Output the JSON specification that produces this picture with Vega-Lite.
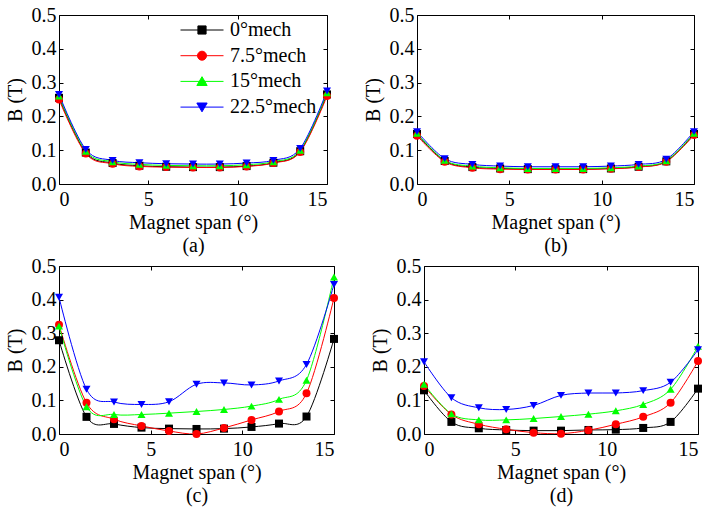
{
  "$schema": "https://vega.github.io/schema/vega-lite/v6.json",
  "padding": {"left": 5, "top": 5, "right": 5, "bottom": 5},
  "background": "white",
  "config": {
    "font": "Liberation Serif",
    "view": {"stroke": null},
    "axis": {
      "grid": false, "domainColor": "black", "domainWidth": 1, "tickColor": "black", "tickWidth": 1, "tickSize": -4,
      "labelColor": "black", "titleColor": "black", "labelFont": "Liberation Serif", "titleFont": "Liberation Serif",
      "labelFontSize": 20, "titleFontSize": 20, "titleFontWeight": "normal"
    },
    "axisX": {"labelPadding": 9, "titlePadding": 3, "titleLineHeight": 23},
    "axisY": {"labelPadding": 7, "titlePadding": 6},
    "legend": {"labelFont": "Liberation Serif", "labelFontSize": 20, "labelColor": "black"}
  },
  "datasets": {
    "a": [
      {"x":0,"B":0.255,"s":"0°mech"},{"x":1.5,"B":0.093,"s":"0°mech"},{"x":3,"B":0.062,"s":"0°mech"},{"x":4.5,"B":0.054,"s":"0°mech"},{"x":6,"B":0.051,"s":"0°mech"},{"x":7.5,"B":0.050,"s":"0°mech"},{"x":9,"B":0.050,"s":"0°mech"},{"x":10.5,"B":0.053,"s":"0°mech"},{"x":12,"B":0.063,"s":"0°mech"},{"x":13.5,"B":0.097,"s":"0°mech"},{"x":15,"B":0.265,"s":"0°mech"},
      {"x":0,"B":0.250,"s":"7.5°mech"},{"x":1.5,"B":0.090,"s":"7.5°mech"},{"x":3,"B":0.060,"s":"7.5°mech"},{"x":4.5,"B":0.052,"s":"7.5°mech"},{"x":6,"B":0.050,"s":"7.5°mech"},{"x":7.5,"B":0.049,"s":"7.5°mech"},{"x":9,"B":0.049,"s":"7.5°mech"},{"x":10.5,"B":0.052,"s":"7.5°mech"},{"x":12,"B":0.062,"s":"7.5°mech"},{"x":13.5,"B":0.095,"s":"7.5°mech"},{"x":15,"B":0.260,"s":"7.5°mech"},
      {"x":0,"B":0.260,"s":"15°mech"},{"x":1.5,"B":0.097,"s":"15°mech"},{"x":3,"B":0.066,"s":"15°mech"},{"x":4.5,"B":0.058,"s":"15°mech"},{"x":6,"B":0.055,"s":"15°mech"},{"x":7.5,"B":0.054,"s":"15°mech"},{"x":9,"B":0.054,"s":"15°mech"},{"x":10.5,"B":0.057,"s":"15°mech"},{"x":12,"B":0.066,"s":"15°mech"},{"x":13.5,"B":0.100,"s":"15°mech"},{"x":15,"B":0.270,"s":"15°mech"},
      {"x":0,"B":0.265,"s":"22.5°mech"},{"x":1.5,"B":0.102,"s":"22.5°mech"},{"x":3,"B":0.070,"s":"22.5°mech"},{"x":4.5,"B":0.063,"s":"22.5°mech"},{"x":6,"B":0.060,"s":"22.5°mech"},{"x":7.5,"B":0.059,"s":"22.5°mech"},{"x":9,"B":0.059,"s":"22.5°mech"},{"x":10.5,"B":0.062,"s":"22.5°mech"},{"x":12,"B":0.070,"s":"22.5°mech"},{"x":13.5,"B":0.105,"s":"22.5°mech"},{"x":15,"B":0.275,"s":"22.5°mech"}
    ],
    "b": [
      {"x":0,"B":0.148,"s":"0°mech"},{"x":1.5,"B":0.068,"s":"0°mech"},{"x":3,"B":0.050,"s":"0°mech"},{"x":4.5,"B":0.046,"s":"0°mech"},{"x":6,"B":0.044,"s":"0°mech"},{"x":7.5,"B":0.044,"s":"0°mech"},{"x":9,"B":0.044,"s":"0°mech"},{"x":10.5,"B":0.046,"s":"0°mech"},{"x":12,"B":0.051,"s":"0°mech"},{"x":13.5,"B":0.067,"s":"0°mech"},{"x":15,"B":0.148,"s":"0°mech"},
      {"x":0,"B":0.143,"s":"7.5°mech"},{"x":1.5,"B":0.066,"s":"7.5°mech"},{"x":3,"B":0.048,"s":"7.5°mech"},{"x":4.5,"B":0.044,"s":"7.5°mech"},{"x":6,"B":0.043,"s":"7.5°mech"},{"x":7.5,"B":0.043,"s":"7.5°mech"},{"x":9,"B":0.043,"s":"7.5°mech"},{"x":10.5,"B":0.045,"s":"7.5°mech"},{"x":12,"B":0.050,"s":"7.5°mech"},{"x":13.5,"B":0.066,"s":"7.5°mech"},{"x":15,"B":0.145,"s":"7.5°mech"},
      {"x":0,"B":0.150,"s":"15°mech"},{"x":1.5,"B":0.070,"s":"15°mech"},{"x":3,"B":0.053,"s":"15°mech"},{"x":4.5,"B":0.048,"s":"15°mech"},{"x":6,"B":0.046,"s":"15°mech"},{"x":7.5,"B":0.046,"s":"15°mech"},{"x":9,"B":0.046,"s":"15°mech"},{"x":10.5,"B":0.048,"s":"15°mech"},{"x":12,"B":0.053,"s":"15°mech"},{"x":13.5,"B":0.069,"s":"15°mech"},{"x":15,"B":0.150,"s":"15°mech"},
      {"x":0,"B":0.155,"s":"22.5°mech"},{"x":1.5,"B":0.075,"s":"22.5°mech"},{"x":3,"B":0.058,"s":"22.5°mech"},{"x":4.5,"B":0.053,"s":"22.5°mech"},{"x":6,"B":0.051,"s":"22.5°mech"},{"x":7.5,"B":0.051,"s":"22.5°mech"},{"x":9,"B":0.051,"s":"22.5°mech"},{"x":10.5,"B":0.053,"s":"22.5°mech"},{"x":12,"B":0.058,"s":"22.5°mech"},{"x":13.5,"B":0.073,"s":"22.5°mech"},{"x":15,"B":0.155,"s":"22.5°mech"}
    ],
    "c": [
      {"x":0,"B":0.279,"s":"0°mech"},{"x":1.5,"B":0.051,"s":"0°mech"},{"x":3,"B":0.030,"s":"0°mech"},{"x":4.5,"B":0.019,"s":"0°mech"},{"x":6,"B":0.016,"s":"0°mech"},{"x":7.5,"B":0.015,"s":"0°mech"},{"x":9,"B":0.016,"s":"0°mech"},{"x":10.5,"B":0.021,"s":"0°mech"},{"x":12,"B":0.031,"s":"0°mech"},{"x":13.5,"B":0.052,"s":"0°mech"},{"x":15,"B":0.283,"s":"0°mech"},
      {"x":0,"B":0.325,"s":"7.5°mech"},{"x":1.5,"B":0.093,"s":"7.5°mech"},{"x":3,"B":0.044,"s":"7.5°mech"},{"x":4.5,"B":0.024,"s":"7.5°mech"},{"x":6,"B":0.009,"s":"7.5°mech"},{"x":7.5,"B":0.000,"s":"7.5°mech"},{"x":9,"B":0.018,"s":"7.5°mech"},{"x":10.5,"B":0.042,"s":"7.5°mech"},{"x":12,"B":0.067,"s":"7.5°mech"},{"x":13.5,"B":0.121,"s":"7.5°mech"},{"x":15,"B":0.405,"s":"7.5°mech"},
      {"x":0,"B":0.321,"s":"15°mech"},{"x":1.5,"B":0.081,"s":"15°mech"},{"x":3,"B":0.058,"s":"15°mech"},{"x":4.5,"B":0.058,"s":"15°mech"},{"x":6,"B":0.062,"s":"15°mech"},{"x":7.5,"B":0.067,"s":"15°mech"},{"x":9,"B":0.073,"s":"15°mech"},{"x":10.5,"B":0.083,"s":"15°mech"},{"x":12,"B":0.103,"s":"15°mech"},{"x":13.5,"B":0.160,"s":"15°mech"},{"x":15,"B":0.467,"s":"15°mech"},
      {"x":0,"B":0.407,"s":"22.5°mech"},{"x":1.5,"B":0.133,"s":"22.5°mech"},{"x":3,"B":0.095,"s":"22.5°mech"},{"x":4.5,"B":0.088,"s":"22.5°mech"},{"x":6,"B":0.096,"s":"22.5°mech"},{"x":7.5,"B":0.148,"s":"22.5°mech"},{"x":9,"B":0.152,"s":"22.5°mech"},{"x":10.5,"B":0.146,"s":"22.5°mech"},{"x":12,"B":0.158,"s":"22.5°mech"},{"x":13.5,"B":0.207,"s":"22.5°mech"},{"x":15,"B":0.445,"s":"22.5°mech"}
    ],
    "d": [
      {"x":0,"B":0.130,"s":"0°mech"},{"x":1.5,"B":0.036,"s":"0°mech"},{"x":3,"B":0.017,"s":"0°mech"},{"x":4.5,"B":0.012,"s":"0°mech"},{"x":6,"B":0.010,"s":"0°mech"},{"x":7.5,"B":0.010,"s":"0°mech"},{"x":9,"B":0.012,"s":"0°mech"},{"x":10.5,"B":0.013,"s":"0°mech"},{"x":12,"B":0.018,"s":"0°mech"},{"x":13.5,"B":0.036,"s":"0°mech"},{"x":15,"B":0.135,"s":"0°mech"},
      {"x":0,"B":0.143,"s":"7.5°mech"},{"x":1.5,"B":0.058,"s":"7.5°mech"},{"x":3,"B":0.029,"s":"7.5°mech"},{"x":4.5,"B":0.014,"s":"7.5°mech"},{"x":6,"B":0.004,"s":"7.5°mech"},{"x":7.5,"B":0.001,"s":"7.5°mech"},{"x":9,"B":0.011,"s":"7.5°mech"},{"x":10.5,"B":0.029,"s":"7.5°mech"},{"x":12,"B":0.051,"s":"7.5°mech"},{"x":13.5,"B":0.093,"s":"7.5°mech"},{"x":15,"B":0.217,"s":"7.5°mech"},
      {"x":0,"B":0.148,"s":"15°mech"},{"x":1.5,"B":0.060,"s":"15°mech"},{"x":3,"B":0.042,"s":"15°mech"},{"x":4.5,"B":0.042,"s":"15°mech"},{"x":6,"B":0.046,"s":"15°mech"},{"x":7.5,"B":0.052,"s":"15°mech"},{"x":9,"B":0.059,"s":"15°mech"},{"x":10.5,"B":0.069,"s":"15°mech"},{"x":12,"B":0.088,"s":"15°mech"},{"x":13.5,"B":0.133,"s":"15°mech"},{"x":15,"B":0.261,"s":"15°mech"},
      {"x":0,"B":0.215,"s":"22.5°mech"},{"x":1.5,"B":0.108,"s":"22.5°mech"},{"x":3,"B":0.078,"s":"22.5°mech"},{"x":4.5,"B":0.073,"s":"22.5°mech"},{"x":6,"B":0.085,"s":"22.5°mech"},{"x":7.5,"B":0.115,"s":"22.5°mech"},{"x":9,"B":0.122,"s":"22.5°mech"},{"x":10.5,"B":0.122,"s":"22.5°mech"},{"x":12,"B":0.129,"s":"22.5°mech"},{"x":13.5,"B":0.154,"s":"22.5°mech"},{"x":15,"B":0.251,"s":"22.5°mech"}
    ]
  },
  "spacing": 1,
  "vconcat": [
    {
      "spacing": 32,
      "hconcat": [
        {
          "width": 268, "height": 169,
          "data": {"name": "a"},
          "layer": [
            {"mark": {"type": "line", "interpolate": "cardinal", "strokeWidth": 1, "clip": true},
             "encoding": {
               "x": {"field": "x", "type": "quantitative", "scale": {"domain": [0, 15], "nice": false}, "axis": {"values": [0, 5, 10, 15], "title": ["Magnet span (°)", "(a)"]}},
               "y": {"field": "B", "type": "quantitative", "scale": {"domain": [0, 0.5], "nice": false}, "axis": {"values": [0, 0.1, 0.2, 0.3, 0.4, 0.5], "format": ".1f", "title": "B (T)"}},
               "color": {"field": "s", "type": "nominal", "scale": {"domain": ["0°mech", "7.5°mech", "15°mech", "22.5°mech"], "range": ["#000000", "#ff0000", "#00ff00", "#0000ff"]}, "legend": {"orient": "none", "legendX": 121, "legendY": 5, "title": null, "clipHeight": 20, "rowPadding": 5.7, "symbolSize": 1849, "labelOffset": 6, "padding": 0,
                 "encode": {"symbols": {"update": {"shape": {"signal": "datum.value === '0°mech' ? 'M-1,0H1M-0.19,-0.19H0.19V0.19H-0.19Z' : datum.value === '7.5°mech' ? 'M-1,0H1M0.21,0A0.21,0.21,0,1,1,-0.21,0A0.21,0.21,0,1,1,0.21,0Z' : datum.value === '15°mech' ? 'M-1,0H1M0,-0.22L0.24,0.19L-0.24,0.19Z' : 'M-1,0H1M0,0.22L0.24,-0.19L-0.24,-0.19Z'"}, "stroke": {"signal": "scale('color', datum.value)"}, "fill": {"signal": "scale('color', datum.value)"}, "strokeWidth": {"value": 1}, "opacity": {"value": 1}}}}}}
             }},
            {"mark": {"type": "point", "filled": true, "size": 64, "opacity": 1},
             "encoding": {
               "x": {"field": "x", "type": "quantitative", "axis": null},
               "y": {"field": "B", "type": "quantitative", "axis": null},
               "color": {"field": "s", "type": "nominal"},
               "shape": {"condition": [{"test": "datum.s === '0°mech'", "value": "square"}, {"test": "datum.s === '7.5°mech'", "value": "circle"}, {"test": "datum.s === '15°mech'", "value": "triangle-up"}], "value": "triangle-down"}
             }},
            {"mark": {"type": "point", "opacity": 0},
             "encoding": {
               "x": {"field": "x", "type": "quantitative", "axis": {"orient": "top", "values": [0, 5, 10, 15], "labels": false, "title": null}},
               "y": {"field": "B", "type": "quantitative", "axis": {"orient": "right", "values": [0, 0.1, 0.2, 0.3, 0.4, 0.5], "labels": false, "title": null}}
             }}
          ],
          "resolve": {"axis": {"x": "independent", "y": "independent"}}
        },
        {
          "width": 277, "height": 169,
          "data": {"name": "b"},
          "layer": [
            {"mark": {"type": "line", "interpolate": "cardinal", "strokeWidth": 1, "clip": true},
             "encoding": {
               "x": {"field": "x", "type": "quantitative", "scale": {"domain": [0, 15], "nice": false}, "axis": {"values": [0, 5, 10, 15], "title": ["Magnet span (°)", "(b)"]}},
               "y": {"field": "B", "type": "quantitative", "scale": {"domain": [0, 0.5], "nice": false}, "axis": {"values": [0, 0.1, 0.2, 0.3, 0.4, 0.5], "format": ".1f", "title": "B (T)"}},
               "color": {"field": "s", "type": "nominal"}
             }},
            {"mark": {"type": "point", "filled": true, "size": 64, "opacity": 1},
             "encoding": {
               "x": {"field": "x", "type": "quantitative", "axis": null},
               "y": {"field": "B", "type": "quantitative", "axis": null},
               "color": {"field": "s", "type": "nominal"},
               "shape": {"condition": [{"test": "datum.s === '0°mech'", "value": "square"}, {"test": "datum.s === '7.5°mech'", "value": "circle"}, {"test": "datum.s === '15°mech'", "value": "triangle-up"}], "value": "triangle-down"}
             }},
            {"mark": {"type": "point", "opacity": 0},
             "encoding": {
               "x": {"field": "x", "type": "quantitative", "axis": {"orient": "top", "values": [0, 5, 10, 15], "labels": false, "title": null}},
               "y": {"field": "B", "type": "quantitative", "axis": {"orient": "right", "values": [0, 0.1, 0.2, 0.3, 0.4, 0.5], "labels": false, "title": null}}
             }}
          ],
          "resolve": {"axis": {"x": "independent", "y": "independent"}}
        }
      ]
    },
    {
      "spacing": 32,
      "hconcat": [
        {
          "width": 275, "height": 168,
          "data": {"name": "c"},
          "layer": [
            {"mark": {"type": "line", "interpolate": "cardinal", "strokeWidth": 1, "clip": true},
             "encoding": {
               "x": {"field": "x", "type": "quantitative", "scale": {"domain": [0, 15], "nice": false}, "axis": {"values": [0, 5, 10, 15], "title": ["Magnet span (°)", "(c)"]}},
               "y": {"field": "B", "type": "quantitative", "scale": {"domain": [0, 0.5], "nice": false}, "axis": {"values": [0, 0.1, 0.2, 0.3, 0.4, 0.5], "format": ".1f", "title": "B (T)"}},
               "color": {"field": "s", "type": "nominal"}
             }},
            {"mark": {"type": "point", "filled": true, "size": 64, "opacity": 1},
             "encoding": {
               "x": {"field": "x", "type": "quantitative", "axis": null},
               "y": {"field": "B", "type": "quantitative", "axis": null},
               "color": {"field": "s", "type": "nominal"},
               "shape": {"condition": [{"test": "datum.s === '0°mech'", "value": "square"}, {"test": "datum.s === '7.5°mech'", "value": "circle"}, {"test": "datum.s === '15°mech'", "value": "triangle-up"}], "value": "triangle-down"}
             }},
            {"mark": {"type": "point", "opacity": 0},
             "encoding": {
               "x": {"field": "x", "type": "quantitative", "axis": {"orient": "top", "values": [0, 5, 10, 15], "labels": false, "title": null}},
               "y": {"field": "B", "type": "quantitative", "axis": {"orient": "right", "values": [0, 0.1, 0.2, 0.3, 0.4, 0.5], "labels": false, "title": null}}
             }}
          ],
          "resolve": {"axis": {"x": "independent", "y": "independent"}}
        },
        {
          "width": 274, "height": 168,
          "data": {"name": "d"},
          "layer": [
            {"mark": {"type": "line", "interpolate": "cardinal", "strokeWidth": 1, "clip": true},
             "encoding": {
               "x": {"field": "x", "type": "quantitative", "scale": {"domain": [0, 15], "nice": false}, "axis": {"values": [0, 5, 10, 15], "title": ["Magnet span (°)", "(d)"]}},
               "y": {"field": "B", "type": "quantitative", "scale": {"domain": [0, 0.5], "nice": false}, "axis": {"values": [0, 0.1, 0.2, 0.3, 0.4, 0.5], "format": ".1f", "title": "B (T)"}},
               "color": {"field": "s", "type": "nominal"}
             }},
            {"mark": {"type": "point", "filled": true, "size": 64, "opacity": 1},
             "encoding": {
               "x": {"field": "x", "type": "quantitative", "axis": null},
               "y": {"field": "B", "type": "quantitative", "axis": null},
               "color": {"field": "s", "type": "nominal"},
               "shape": {"condition": [{"test": "datum.s === '0°mech'", "value": "square"}, {"test": "datum.s === '7.5°mech'", "value": "circle"}, {"test": "datum.s === '15°mech'", "value": "triangle-up"}], "value": "triangle-down"}
             }},
            {"mark": {"type": "point", "opacity": 0},
             "encoding": {
               "x": {"field": "x", "type": "quantitative", "axis": {"orient": "top", "values": [0, 5, 10, 15], "labels": false, "title": null}},
               "y": {"field": "B", "type": "quantitative", "axis": {"orient": "right", "values": [0, 0.1, 0.2, 0.3, 0.4, 0.5], "labels": false, "title": null}}
             }}
          ],
          "resolve": {"axis": {"x": "independent", "y": "independent"}}
        }
      ]
    }
  ]
}
